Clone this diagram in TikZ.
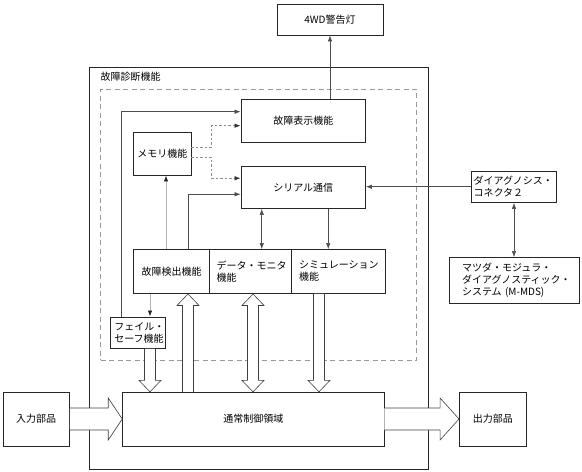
\documentclass[tikz,border=0pt]{standalone}
\usepackage{fontspec}
\setmainfont{Noto Sans CJK JP}
\usetikzlibrary{arrows.meta,calc}
\newcommand\blkdn[3]{\draw[blk] let \p1=(#2), \p2=(#3) in
 (#1-5.5,\y1) -- (#1-5.5,\y2+11.5pt) -- (#1-11,\y2+11.5pt) -- (#1,\y2) -- (#1+11,\y2+11.5pt) -- (#1+5.5,\y2+11.5pt) -- (#1+5.5,\y1);}
\newcommand\blkup[3]{\draw[blk] let \p1=(#2), \p2=(#3) in
 (#1-5.5,\y1) -- (#1-5.5,\y2-11.5pt) -- (#1-11,\y2-11.5pt) -- (#1,\y2) -- (#1+11,\y2-11.5pt) -- (#1+5.5,\y2-11.5pt) -- (#1+5.5,\y1);}
\newcommand\blkdbl[3]{\draw[blk] let \p1=(#2), \p2=(#3) in
 (#1,\y1) -- (#1+11,\y1-11.5pt) -- (#1+5.5,\y1-11.5pt) -- (#1+5.5,\y2+11.5pt) -- (#1+11,\y2+11.5pt) -- (#1,\y2) -- (#1-11,\y2+11.5pt) -- (#1-5.5,\y2+11.5pt) -- (#1-5.5,\y1-11.5pt) -- (#1-11,\y1-11.5pt) -- cycle;}
\newcommand\blkrt[4]{\draw[blk] let \p1=(#2), \p2=(#3) in
 (\x1,#1-11) -- (\x2-#4pt,#1-11) -- (\x2-#4pt,#1-21) -- (\x2,#1) -- (\x2-#4pt,#1+21) -- (\x2-#4pt,#1+11) -- (\x1,#1+11);}
\begin{document}
\begin{tikzpicture}[x=1pt,y=-1pt,
  font=\fontsize{10}{12}\selectfont,
  box/.style={draw=black!85, line width=0.9pt, inner sep=0pt, fill=white},
  frame/.style={draw=black!85, line width=0.9pt, inner sep=0pt},
  dframe/.style={draw=black!40, line width=0.9pt, dash pattern=on 5pt off 3.5pt, inner sep=0pt},
  conn/.style={draw=black!70, line width=0.6pt, -{Latex[length=6pt,width=4.5pt]}},
  conn2/.style={draw=black!70, line width=0.6pt, {Latex[length=6pt,width=4.5pt]}-{Latex[length=6pt,width=4.5pt]}},
  gconn/.style={draw=black!30, line width=0.8pt, -{Latex[length=6pt,width=4.5pt,color=black!85]}},
  dconn/.style={draw=black!45, line width=0.7pt, dash pattern=on 2.5pt off 2pt, -{Latex[length=6pt,width=4.5pt,color=black!80]}},
  blk/.style={draw=black!75, line width=0.6pt, fill=white, line join=miter}
]
\useasboundingbox (0,0) rectangle (582,472);
% frames
\node[frame, minimum width=339pt, minimum height=402pt] (diag) at (258.5,268) {};
\node[anchor=west, inner sep=0pt] (title) at (100.5,76.7) {故障診断機能};
\node[dframe, minimum width=316pt, minimum height=271pt] (dbox) at (258.5,224.5) {};
% boxes
\node[box, minimum width=106pt, minimum height=31pt] (w4) at (330,19.5) {4WD警告灯};
\node[box, minimum width=124.5pt, minimum height=43pt] (disp) at (303.25,121) {故障表示機能};
\node[box, minimum width=57.5pt, minimum height=43pt] (mem) at (162.25,153.5) {メモリ機能};
\node[box, minimum width=124.5pt, minimum height=42.5pt] (ser) at (303.25,187.25) {シリアル通信};
\node[box, minimum width=85pt, minimum height=31.5pt, text width=81pt, align=left] (conn) at (514,186.75) {ダイアグノシス・\\コネクタ２};
\node[box, minimum width=130pt, minimum height=46pt, text width=104pt, align=left] (mmds) at (514,280.5) {マツダ・モジュラ・\\ダイアグノスティック・\\システム (M-MDS)};
\node[box, minimum width=76pt, minimum height=44pt] (det) at (171.5,271.5) {故障検出機能};
\node[box, minimum width=82pt, minimum height=44pt, text width=68pt, align=left] (mon) at (250.5,271.5) {データ・モニタ\\機能};
\node[box, minimum width=94pt, minimum height=44pt, text width=79pt, align=left] (sim) at (338.5,271.5) {シミュレーション\\機能};
\node[box, minimum width=54.8pt, minimum height=31.3pt, text width=47.6pt, align=left] (fs) at (138.1,332.65) {フェイル・\\セーフ機能};
\node[box, minimum width=261.3pt, minimum height=53.7pt] (ctl) at (253.35,419.15) {通常制御領域};
\node[box, minimum width=66.5pt, minimum height=53.7pt] (inp) at (36.25,419.15) {入力部品};
\node[box, minimum width=66.5pt, minimum height=53.7pt] (out) at (492.75,419.15) {出力部品};
% thin connectors
\draw[conn] (w4.south |- disp.north) -- (w4.south);
\draw[conn] ([xshift=11pt]fs.north west) |- ([yshift=9.3pt]disp.west);
\draw[dconn] ([yshift=6.2pt]mem.east) -- ++(20,0) |- ([yshift=-4.7pt]disp.west);
\draw[dconn] ([yshift=-3.8pt]mem.east) -- ++(20,0) |- ([yshift=9pt]ser.west);
\path ([xshift=3.75pt]mem.south) coordinate (m1);
\draw[gconn] (m1 |- det.north) -- (m1);
\path ([xshift=16.8pt]det.north) coordinate (d1);
\draw[conn] (d1) |- ([yshift=-7pt]ser.west);
\path ([xshift=-41.5pt]ser.south) coordinate (s1);
\draw[conn2] (s1) -- (s1 |- mon.north);
\path ([xshift=25pt]ser.south) coordinate (s2);
\draw[conn] (s2) -- (s2 |- sim.north);
\draw[conn] (conn.west) -- (ser.east |- conn.west);
\draw[conn2] (conn.south) -- (conn.south |- mmds.north);
\path ([xshift=-21.5pt]det.south) coordinate (d2);
\draw[gconn] (d2) -- (d2 |- fs.north);
% block arrows
\blkdn{150}{fs.south}{ctl.north}
\blkup{188}{ctl.north}{det.south}
\blkdbl{253}{mon.south}{ctl.north}
\blkdn{319}{sim.south}{ctl.north}
\blkrt{419}{inp.east}{ctl.west}{14}
\blkrt{419}{ctl.east}{out.west}{19}
\end{tikzpicture}
\end{document}
